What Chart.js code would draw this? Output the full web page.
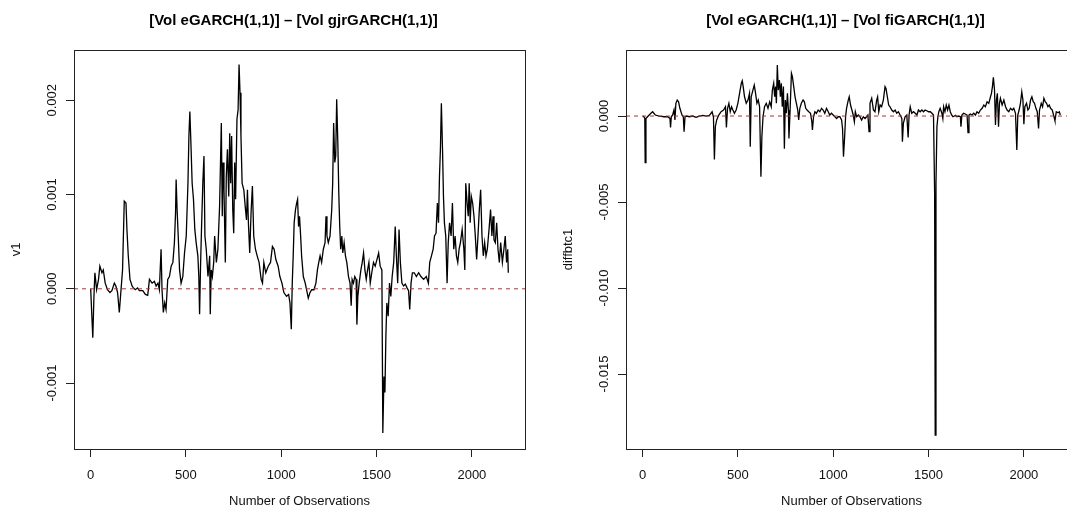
<!DOCTYPE html>
<html>
<head>
<meta charset="utf-8">
<script src="https://cdn.jsdelivr.net/npm/chart.js@4.4.1/dist/chart.umd.min.js"></script>
<style>
  html, body { margin: 0; padding: 0; background: #fff; }
  body { width: 1067px; height: 520px; overflow: hidden; position: relative; }
  .panel { position: absolute; top: 0; width: 552px; height: 520px; }
</style>
</head>
<body>
<div class="panel" style="left:0"><canvas id="chartLeft" width="552" height="520"></canvas></div>
<div class="panel" style="left:552px"><canvas id="chartRight" width="552" height="520"></canvas></div>
<script>
// x axis (observation number), shared by both panels
const xTicks = [0, 500, 1000, 1500, 2000];
const xTickLabels = ['0', '500', '1000', '1500', '2000'];
const zeroLevel = 0;

// left panel: [Vol eGARCH(1,1)] - [Vol gjrGARCH(1,1)]
const obsLeft = [
  1, 4, 12, 18, 23, 32, 42, 49, 60, 67,
  77, 89, 102, 112, 125, 133, 142, 151, 160, 168,
  177, 186, 191, 198, 207, 218, 225, 235, 247, 256,
  274, 288, 300, 309, 323, 335, 344, 354, 361, 370,
  375, 382, 389, 396, 405, 414, 423, 432, 440, 446,
  449, 454, 460, 467, 475, 484, 493, 502, 511, 516,
  521, 526, 533, 540, 547, 554, 563, 568, 572, 577,
  582, 589, 595, 600, 607, 616, 625, 628, 633, 639,
  646, 651, 660, 668, 677, 686, 691, 695, 700, 707,
  712, 718, 725, 730, 735, 740, 746, 751, 756, 761,
  768, 774, 779, 784, 789, 795, 804, 811, 818, 823,
  828, 835, 842, 849, 856, 865, 874, 884, 895, 902,
  909, 919, 932, 944, 954, 963, 972, 984, 993, 1004,
  1014, 1028, 1039, 1046, 1053, 1058, 1063, 1068, 1075, 1081,
  1086, 1091, 1096, 1102, 1107, 1116, 1126, 1133, 1142, 1151,
  1160, 1172, 1182, 1190, 1197, 1204, 1212, 1221, 1230, 1235,
  1240, 1247, 1256, 1265, 1270, 1275, 1281, 1286, 1291, 1297,
  1302, 1307, 1312, 1318, 1323, 1330, 1337, 1344, 1353, 1361,
  1367, 1372, 1379, 1386, 1393, 1397, 1402, 1409, 1418, 1425,
  1432, 1439, 1446, 1453, 1460, 1467, 1475, 1484, 1493, 1502,
  1511, 1519, 1528, 1533, 1539, 1544, 1549, 1554, 1561, 1568,
  1575, 1582, 1590, 1598, 1604, 1611, 1618, 1625, 1633, 1642,
  1651, 1660, 1668, 1674, 1681, 1688, 1698, 1709, 1721, 1733,
  1747, 1761, 1772, 1779, 1788, 1797, 1804, 1812, 1819, 1825,
  1830, 1835, 1840, 1846, 1851, 1856, 1863, 1870, 1876, 1883,
  1891, 1898, 1905, 1912, 1919, 1926, 1933, 1940, 1949, 1958,
  1963, 1968, 1975, 1981, 1986, 1991, 1997, 2004, 2011, 2018,
  2025, 2032, 2039, 2046, 2053, 2060, 2067, 2074, 2081, 2090,
  2098, 2105, 2111, 2116, 2123, 2130, 2137, 2144, 2151, 2160,
  2168, 2175, 2182, 2188, 2191
];
const v1 = [
  0.00000, -0.00015, -0.00052, -0.00008, 0.00017, -0.00001, 0.00010, 0.00024, 0.00017, 0.00020,
  0.00006, -0.00001, -0.00004, -0.00002, 0.00006, 0.00003, -0.00004, -0.00025, -0.00001, 0.00020,
  0.00093, 0.00091, 0.00063, 0.00035, 0.00010, 0.00003, 0.00001, -0.00001, 0.00001, -0.00002,
  -0.00002, -0.00006, -0.00007, 0.00010, 0.00006, 0.00008, 0.00003, 0.00006, -0.00001, 0.00042,
  -0.00001, -0.00025, -0.00015, -0.00022, 0.00010, 0.00013, 0.00024, 0.00028, 0.00049, 0.00081,
  0.00116, 0.00084, 0.00056, 0.00020, 0.00006, 0.00013, 0.00038, 0.00056, 0.00112, 0.00162,
  0.00188, 0.00158, 0.00112, 0.00095, 0.00063, 0.00049, 0.00035, 0.00013, -0.00027, 0.00024,
  0.00063, 0.00112, 0.00141, 0.00056, 0.00042, 0.00013, 0.00035, -0.00027, 0.00020, 0.00013,
  0.00028, 0.00056, 0.00028, 0.00042, 0.00088, 0.00176, 0.00077, 0.00134, 0.00105, 0.00028,
  0.00119, 0.00148, 0.00098, 0.00165, 0.00112, 0.00162, 0.00084, 0.00059, 0.00134, 0.00095,
  0.00180, 0.00190, 0.00238, 0.00208, 0.00162, 0.00112, 0.00105, 0.00088, 0.00073, 0.00105,
  0.00070, 0.00038, 0.00081, 0.00109, 0.00056, 0.00042, 0.00035, 0.00028, 0.00010, 0.00006,
  0.00028, 0.00017, 0.00024, 0.00028, 0.00045, 0.00042, 0.00031, 0.00024, 0.00013, 0.00006,
  -0.00004, -0.00008, -0.00006, -0.00015, -0.00043, 0.00006, 0.00035, 0.00070, 0.00084, 0.00091,
  0.00095, 0.00066, 0.00077, 0.00056, 0.00035, 0.00013, 0.00006, -0.00001, -0.00010, -0.00004,
  -0.00001, -0.00001, 0.00006, 0.00020, 0.00028, 0.00035, 0.00028, 0.00042, 0.00049, 0.00077,
  0.00056, 0.00049, 0.00056, 0.00084, 0.00112, 0.00176, 0.00134, 0.00141, 0.00201, 0.00155,
  0.00102, 0.00066, 0.00042, 0.00056, 0.00038, 0.00049, 0.00035, 0.00028, 0.00013, 0.00006,
  -0.00018, 0.00010, 0.00006, 0.00013, 0.00010, -0.00038, -0.00008, 0.00006, 0.00020, 0.00028,
  0.00038, 0.00020, 0.00010, 0.00020, 0.00028, 0.00006, 0.00017, 0.00028, 0.00024, 0.00031,
  0.00038, 0.00024, 0.00020, -0.00153, -0.00093, -0.00110, -0.00050, -0.00015, -0.00029, 0.00006,
  -0.00008, 0.00013, 0.00028, 0.00066, 0.00035, 0.00006, 0.00063, 0.00028, 0.00006, 0.00003,
  0.00005, 0.00001, -0.00002, -0.00022, 0.00006, 0.00017, 0.00017, 0.00013, 0.00017, 0.00013,
  0.00010, 0.00013, 0.00006, 0.00028, 0.00035, 0.00042, 0.00056, 0.00059, 0.00091, 0.00070,
  0.00119, 0.00148, 0.00197, 0.00148, 0.00098, 0.00070, 0.00056, 0.00006, 0.00049, 0.00070,
  0.00056, 0.00091, 0.00042, 0.00056, 0.00035, 0.00028, 0.00042, 0.00049, 0.00063, 0.00042,
  0.00020, 0.00112, 0.00091, 0.00077, 0.00112, 0.00070, 0.00098, 0.00091, 0.00077, 0.00056,
  0.00031, 0.00056, 0.00084, 0.00105, 0.00056, 0.00035, 0.00049, 0.00035, 0.00042, 0.00063,
  0.00084, 0.00056, 0.00077, 0.00052, 0.00049, 0.00070, 0.00042, 0.00028, 0.00049, 0.00028,
  0.00042, 0.00056, 0.00028, 0.00042, 0.00017
];
const leftYTicks = [-0.001, 0, 0.001, 0.002];
const leftYTickLabels = ['-0.001', '0.000', '0.001', '0.002'];

// right panel: [Vol eGARCH(1,1)] - [Vol fiGARCH(1,1)]
const obsRight = [
  1, 7, 12, 14, 18, 26, 35, 44, 53, 67,
  88, 114, 132, 144, 147, 151, 158, 165, 170, 175,
  182, 189, 196, 207, 214, 218, 223, 232, 246, 263,
  281, 298, 316, 333, 351, 365, 372, 377, 382, 389,
  400, 412, 425, 435, 440, 446, 453, 460, 467, 474,
  482, 491, 500, 509, 518, 523, 528, 535, 544, 553,
  561, 565, 570, 579, 586, 593, 600, 607, 614, 621,
  626, 632, 640, 649, 658, 667, 675, 681, 688, 693,
  698, 702, 707, 712, 718, 723, 728, 733, 739, 744,
  749, 754, 760, 765, 768, 774, 781, 786, 793, 800,
  807, 814, 819, 825, 833, 842, 849, 856, 863, 872,
  881, 888, 891, 897, 904, 912, 921, 930, 939, 947,
  956, 965, 974, 982, 991, 1000, 1009, 1018, 1026, 1035,
  1044, 1049, 1054, 1060, 1065, 1070, 1079, 1084, 1091, 1098,
  1105, 1111, 1116, 1123, 1132, 1140, 1149, 1158, 1167, 1175,
  1182, 1188, 1193, 1202, 1211, 1219, 1228, 1233, 1239, 1246,
  1254, 1263, 1272, 1277, 1284, 1291, 1298, 1307, 1316, 1325,
  1333, 1342, 1351, 1360, 1363, 1368, 1377, 1386, 1393, 1398,
  1404, 1412, 1421, 1430, 1439, 1447, 1456, 1465, 1474, 1482,
  1491, 1500, 1509, 1518, 1526, 1532, 1535, 1539, 1544, 1549,
  1554, 1561, 1570, 1575, 1579, 1586, 1593, 1600, 1607, 1614,
  1621, 1628, 1635, 1642, 1649, 1658, 1667, 1670, 1675, 1684,
  1693, 1702, 1707, 1712, 1719, 1728, 1737, 1746, 1754, 1763,
  1772, 1781, 1790, 1798, 1807, 1816, 1825, 1830, 1835, 1840,
  1846, 1851, 1856, 1861, 1867, 1872, 1877, 1886, 1895, 1904,
  1912, 1921, 1930, 1939, 1947, 1956, 1963, 1968, 1975, 1982,
  1989, 1995, 2000, 2005, 2014, 2021, 2028, 2035, 2042, 2049,
  2056, 2063, 2070, 2077, 2082, 2091, 2098, 2105, 2112, 2119,
  2126, 2133, 2140, 2149, 2158, 2163, 2170, 2179, 2186, 2191
];
const diffbtc1 = [
  0.00000, -0.00004, -0.00014, -0.00271, -0.00014, -0.00004, 0.00006, 0.00016, 0.00025, 0.00006,
  0.00000, -0.00004, -0.00004, -0.00014, -0.00066, -0.00004, 0.00006, 0.00035, -0.00023, 0.00074,
  0.00093, 0.00083, 0.00045, 0.00006, -0.00004, -0.00091, -0.00004, 0.00000, -0.00004, 0.00000,
  -0.00008, 0.00000, 0.00004, 0.00000, 0.00004, 0.00025, -0.00004, -0.00252, -0.00062, -0.00023,
  0.00006, 0.00025, 0.00035, 0.00054, -0.00066, 0.00045, 0.00074, 0.00025, 0.00054, 0.00035,
  0.00016, 0.00035, 0.00074, 0.00132, 0.00190, 0.00205, 0.00171, 0.00112, 0.00074, 0.00093,
  0.00132, -0.00178, 0.00112, 0.00151, 0.00180, 0.00132, 0.00074, 0.00093, 0.00054, -0.00353,
  -0.00120, -0.00004, 0.00054, 0.00074, 0.00045, 0.00083, 0.00054, 0.00151, 0.00190, 0.00112,
  0.00171, 0.00074, 0.00297, 0.00151, 0.00209, 0.00112, 0.00190, 0.00054, 0.00171, -0.00190,
  0.00093, 0.00016, 0.00132, 0.00035, -0.00130, 0.00035, 0.00248, 0.00229, 0.00171, 0.00112,
  0.00074, 0.00035, -0.00023, 0.00045, 0.00074, 0.00093, 0.00083, 0.00045, 0.00035, 0.00025,
  0.00016, -0.00033, -0.00081, -0.00004, 0.00025, 0.00016, 0.00035, 0.00025, 0.00045, 0.00035,
  0.00016, 0.00045, 0.00025, 0.00006, 0.00016, 0.00006, -0.00004, -0.00014, -0.00004, -0.00004,
  -0.00023, -0.00072, -0.00236, -0.00120, -0.00004, 0.00045, 0.00093, 0.00112, 0.00064, 0.00035,
  0.00006, -0.00033, 0.00025, -0.00004, 0.00006, -0.00004, -0.00023, -0.00004, -0.00014, -0.00004,
  0.00006, -0.00091, 0.00074, 0.00103, 0.00035, 0.00025, 0.00093, 0.00112, 0.00025, 0.00064,
  0.00054, 0.00093, 0.00171, 0.00161, 0.00112, 0.00064, 0.00054, 0.00035, 0.00025, 0.00035,
  0.00016, 0.00025, 0.00006, -0.00014, -0.00149, -0.00043, -0.00004, 0.00006, -0.00124, 0.00006,
  0.00054, 0.00016, 0.00025, 0.00016, 0.00006, 0.00035, 0.00025, 0.00035, 0.00025, 0.00035,
  0.00031, 0.00025, 0.00025, 0.00016, 0.00006, -0.00450, -0.01855, -0.00391, -0.00062, -0.00004,
  0.00025, 0.00045, 0.00016, -0.00014, 0.00054, 0.00025, 0.00064, 0.00035, 0.00064, 0.00025,
  0.00006, -0.00004, 0.00000, 0.00004, -0.00004, 0.00000, -0.00004, -0.00062, 0.00006, 0.00016,
  0.00012, 0.00006, -0.00097, 0.00006, 0.00012, 0.00006, 0.00016, 0.00006, 0.00025, 0.00016,
  0.00035, 0.00045, 0.00064, 0.00054, 0.00083, 0.00074, 0.00112, 0.00132, 0.00171, 0.00225,
  0.00151, -0.00052, 0.00093, 0.00132, -0.00062, 0.00074, 0.00103, 0.00064, 0.00093, 0.00054,
  0.00035, 0.00025, 0.00045, 0.00035, 0.00045, 0.00016, -0.00198, 0.00006, 0.00035, 0.00074,
  0.00141, 0.00093, -0.00047, 0.00054, 0.00074, 0.00035, 0.00045, 0.00093, 0.00112, 0.00083,
  0.00074, 0.00045, 0.00025, -0.00072, 0.00035, 0.00074, 0.00054, 0.00103, 0.00083, 0.00074,
  0.00054, 0.00064, 0.00045, 0.00035, -0.00004, -0.00027, 0.00025, 0.00019, 0.00025, 0.00006
];
const rightYTicks = [-0.015, -0.010, -0.005, 0];
const rightYTickLabels = ['-0.015', '-0.010', '-0.005', '0.000'];

const FONT = '"Liberation Sans", Arial, Helvetica, sans-serif';

// R-like frame, rotated y tick labels and bold main title
const rFrame = {
  id: 'rFrame',
  afterDraw(chart, args, opts) {
    const ctx = chart.ctx;
    const a = chart.chartArea;
    const ys = chart.scales.y;
    ctx.save();
    ctx.strokeStyle = '#222';
    ctx.lineWidth = 1;
    ctx.strokeRect(Math.round(a.left) + 0.5, Math.round(a.top) + 0.5,
      Math.round(a.right - a.left), Math.round(a.bottom - a.top));

    ctx.fillStyle = '#111';
    ctx.font = '13px ' + FONT;
    ctx.textAlign = 'center';
    ctx.textBaseline = 'middle';
    ys.ticks.forEach((t, i) => {
      const py = ys.getPixelForValue(t.value);
      ctx.save();
      ctx.translate(a.left - 22, py);
      ctx.rotate(-Math.PI / 2);
      ctx.fillText(opts.yLabels[i], 0, 0);
      ctx.restore();
    });

    ctx.fillStyle = '#000';
    ctx.font = 'bold 15px ' + FONT;
    ctx.fillText(opts.title, (a.left + a.right) / 2 + opts.titleShift, 21);
    ctx.restore();
  }
};

function makePanel(canvasId, title, yTitle, xs, ys, yMin, yMax, yTicks, yTickLabels) {
  const xMin = -86.6, xMax = 2278.6;
  const points = xs.map((x, i) => ({ x: x, y: ys[i] }));
  const ctx = document.getElementById(canvasId).getContext('2d');
  return new Chart(ctx, {
    type: 'line',
    data: {
      datasets: [{
        data: points,
        borderColor: '#000',
        borderWidth: 1.3,
        pointRadius: 0,
        tension: 0,
        order: 1
      }, {
        data: [{ x: xMin, y: zeroLevel }, { x: xMax, y: zeroLevel }],
        borderColor: '#b8312f',
        borderWidth: 1,
        borderDash: [4, 4],
        pointRadius: 0,
        order: 0
      }]
    },
    options: {
      responsive: false,
      animation: false,
      layout: { padding: { top: 50, right: 27, left: 0, bottom: 0 } },
      plugins: {
        legend: { display: false },
        tooltip: { enabled: false },
        rFrame: { title: title, yLabels: yTickLabels, titleShift: -6 }
      },
      scales: {
        x: {
          type: 'linear',
          min: xMin,
          max: xMax,
          afterBuildTicks: s => { s.ticks = xTicks.map(v => ({ value: v })); },
          afterFit: s => { s.height = 71; },
          grid: { drawOnChartArea: false, drawTicks: true, tickLength: 8, color: '#222' },
          border: { display: true, color: '#222' },
          ticks: {
            autoSkip: false, maxRotation: 0, padding: 11, color: '#111',
            font: { family: FONT, size: 13 },
            callback: (v, i) => xTickLabels[i]
          },
          title: {
            display: true, text: 'Number of Observations', color: '#111',
            font: { family: FONT, size: 13 },
            padding: { top: 0, bottom: 11 }
          }
        },
        y: {
          type: 'linear',
          min: yMin,
          max: yMax,
          afterBuildTicks: s => { s.ticks = yTicks.map(v => ({ value: v })); },
          afterFit: s => { s.width = 74; },
          grid: { drawOnChartArea: false, drawTicks: true, tickLength: 8, color: '#222' },
          border: { display: true, color: '#222' },
          ticks: { display: false },
          title: {
            display: true, text: yTitle, color: '#111',
            font: { family: FONT, size: 13 },
            padding: { top: 9, bottom: 0 }
          }
        }
      }
    },
    plugins: [rFrame]
  });
}

makePanel('chartLeft', '[Vol eGARCH(1,1)] \u2013 [Vol gjrGARCH(1,1)]', 'v1',
  obsLeft, v1, -0.0017, 0.002534, leftYTicks, leftYTickLabels);
makePanel('chartRight', '[Vol eGARCH(1,1)] \u2013 [Vol fiGARCH(1,1)]', 'diffbtc1',
  obsRight, diffbtc1, -0.01936, 0.00384, rightYTicks, rightYTickLabels);
</script>
</body>
</html>
